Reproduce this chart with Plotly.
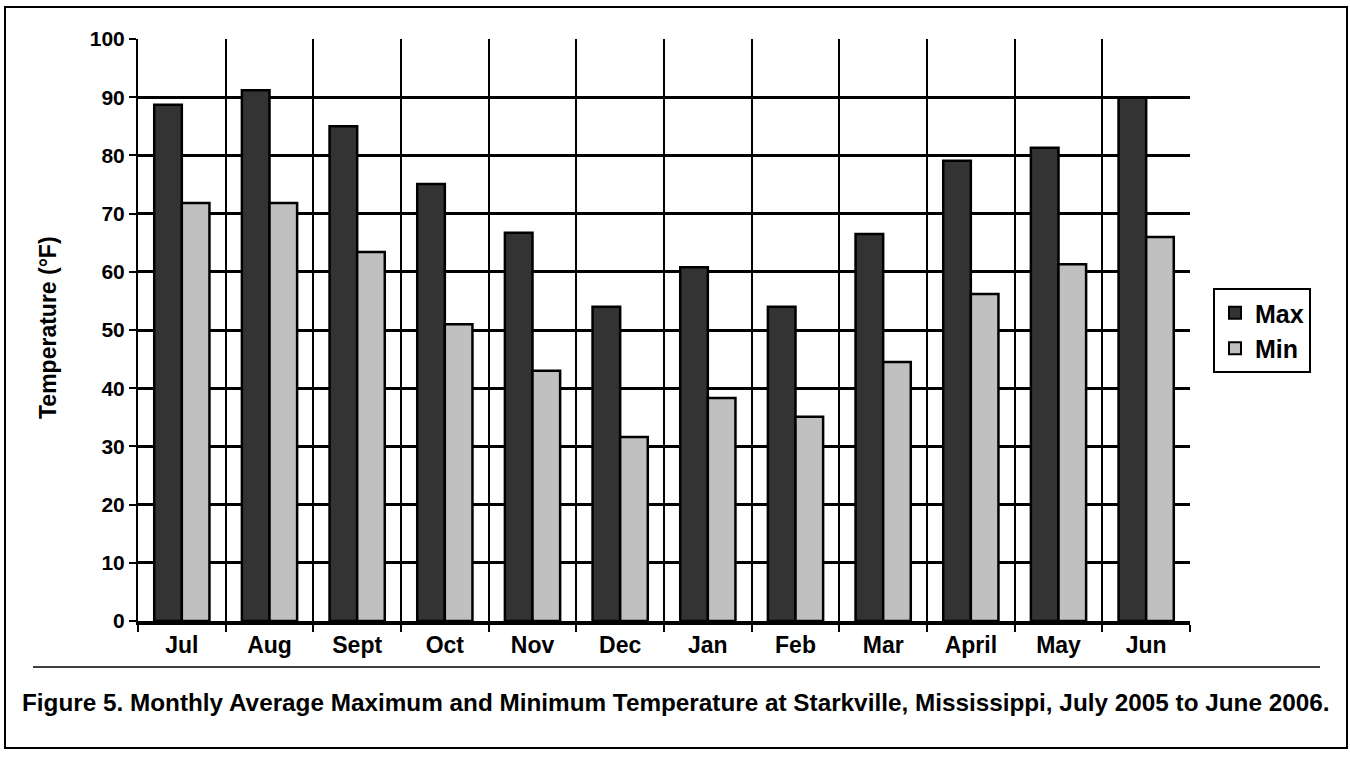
import plotly.graph_objects as go

months = ["Jul", "Aug", "Sept", "Oct", "Nov", "Dec", "Jan", "Feb", "Mar", "April", "May", "Jun"]
max_temp = [88.7, 91.2, 85.0, 75.1, 66.7, 54.0, 60.8, 54.0, 66.5, 79.1, 81.3, 89.9]
min_temp = [71.8, 71.8, 63.4, 51.0, 43.0, 31.6, 38.3, 35.1, 44.5, 56.2, 61.3, 66.0]
y_ticks = [0, 10, 20, 30, 40, 50, 60, 70, 80, 90, 100]
caption = ("Figure 5. Monthly Average Maximum and Minimum Temperature at Starkville, "
           "Mississippi, July 2005 to June 2006.")

FONT = "Liberation Sans, Arial, Helvetica, sans-serif"

FW, FH = 1350, 758
# plot area in pixels
L, R, T, B = 138, 1190, 39, 621
W, H = R - L, B - T
def px(x):
    return (x - L) / W
def py(y):
    return (B - y) / H

fig = go.Figure()
fig.add_trace(go.Bar(x=months, y=max_temp, name="Max",
                     marker=dict(color="#333333", line=dict(color="black", width=2.5))))
fig.add_trace(go.Bar(x=months, y=min_temp, name="Min",
                     marker=dict(color="#c0c0c0", line=dict(color="black", width=2.5))))

fig.update_layout(
    width=FW, height=FH,
    margin=dict(l=L, r=FW - R, t=T, b=FH - B, pad=0),
    paper_bgcolor="white", plot_bgcolor="white",
    barmode="group", bargap=0.37, bargroupgap=0,
    font=dict(family=FONT, color="black", size=16),
    legend=dict(x=px(1213), y=py(288), xanchor="left", yanchor="top",
                bordercolor="black", borderwidth=2, bgcolor="white",
                font=dict(size=25, weight="bold", family=FONT),
                itemsizing="constant", tracegroupgap=0),
    xaxis=dict(type="category", tickson="boundaries", showgrid=True,
               gridcolor="black", gridwidth=2, ticks="outside", ticklen=7,
               tickwidth=2, tickcolor="black",
               tickfont=dict(size=23, weight="bold", family=FONT),
               showline=True, linecolor="black", linewidth=4,
               zeroline=False),
    yaxis=dict(range=[0, 100], tickvals=y_ticks, showgrid=True,
               gridcolor="black", gridwidth=3, ticks="outside", ticklen=7,
               tickwidth=2, tickcolor="black",
               tickfont=dict(size=21, weight="bold", family=FONT),
               showline=True, linecolor="black", linewidth=2,
               zeroline=False),
    shapes=[
        dict(type="rect", xref="paper", yref="paper",
             x0=px(5), x1=px(1347), y0=py(748), y1=py(7),
             line=dict(color="black", width=2), layer="below"),
        dict(type="line", xref="paper", yref="paper",
             x0=px(33), x1=px(1320), y0=py(667), y1=py(667),
             line=dict(color="black", width=1.5)),
    ],
    annotations=[
        dict(text="Temperature (°F)", xref="paper", yref="paper",
             x=px(48), y=py(328), textangle=-90, showarrow=False,
             xanchor="center", yanchor="middle",
             font=dict(size=23, weight="bold", family=FONT)),
        dict(text=caption, xref="paper", yref="paper",
             x=px(676), y=py(702), showarrow=False,
             xanchor="center", yanchor="middle",
             font=dict(size=24.3, weight="bold", family=FONT)),
    ],
)

fig.write_html(
    "out.html",
    config={"displayModeBar": False},
    post_script="document.body.style.margin='0px';document.body.style.overflow='hidden';",
)
